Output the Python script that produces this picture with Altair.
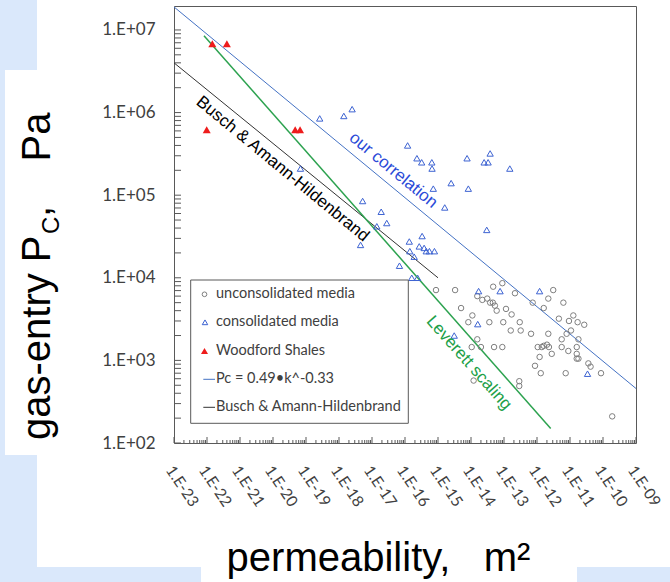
import altair as alt
import pandas as pd

# ---------------- data ----------------
# unconsolidated media: permeability (m^2), gas-entry pressure (Pa)
unc_k = [8.7e-16, 3.3e-15, 1.55e-14, 2.2e-14, 3.1e-14, 3.8e-14, 4.6e-14, 5.3e-14, 6.0e-14, 8.9e-14,
         4.7e-14, 2.15e-13, 5.0e-15, 1.1e-14, 8.3e-15, 3.6e-14, 9.5e-14, 1.15e-13, 1.7e-13, 3.0e-13,
         1.6e-13, 3.2e-13, 6.6e-13, 1.05e-14, 2.0e-14, 5.0e-14, 8.9e-14, 1.55e-14, 1.2e-14, 2.9e-13,
         2.9e-13, 7.4e-13, 1.6e-12, 2.2e-12, 3.1e-12, 6.3e-12, 4.6e-12, 9.3e-12, 1.26e-11, 1.7e-11,
         2.7e-11, 1.07e-11, 7.9e-12, 2.2e-12, 1.05e-12, 1.4e-12, 1.6e-12, 2.0e-12, 2.3e-12, 2.8e-12,
         1.2e-12, 5.6e-12, 5.6e-12, 8.9e-12, 1.6e-11, 1.6e-11, 1.6e-11, 1.8e-11, 1.8e-11, 8.7e-13,
         1.3e-12, 7.4e-12, 3.6e-11, 4.2e-11, 8.7e-11, 1.9e-10]
unc_p = [7.1e3, 7.1e3, 6.0e3, 5.4e3, 5.6e3, 5.0e3, 5.0e3, 4.6e3, 4.0e3, 8.6e3,
         7.8e3, 6.5e3, 4.3e3, 3.5e3, 2.9e3, 2.9e3, 2.9e3, 4.2e3, 3.6e3, 2.9e3,
         2.3e3, 2.3e3, 2.1e3, 1.45e3, 1.45e3, 1.45e3, 1.45e3, 1.8e3, 5.7e2, 5.6e2,
         4.9e2, 5.0e3, 4.3e3, 5.6e3, 7.1e3, 5.0e3, 3.2e3, 3.0e3, 3.5e3, 2.9e3,
         2.7e3, 2.3e3, 2.1e3, 2.1e3, 1.45e3, 1.45e3, 1.5e3, 1.55e3, 1.45e3, 1.2e3,
         1.1e3, 1.8e3, 1.45e3, 1.3e3, 1.45e3, 1.2e3, 1.05e3, 1.05e3, 1.8e3, 8.6e2,
         7.0e2, 7.0e2, 9.2e2, 8.4e2, 7.0e2, 2.1e2]

# consolidated media
con_k = [2.6e-19, 1.4e-18, 2.5e-18, 6.8e-20, 1.2e-16, 2.3e-16, 3.2e-16, 6.5e-16, 6.6e-16, 7.6e-15,
         2.5e-14, 3.3e-14, 3.8e-14, 1.5e-13, 2.5e-15, 7.2e-16, 8.3e-15, 1.6e-15, 3.0e-14, 5.2e-18,
         1.9e-17, 2.8e-17, 1.4e-17, 4.5e-18, 1.35e-16, 3.3e-16, 2.7e-16, 3.8e-16, 4.4e-16, 5.5e-16,
         7.8e-16, 1.4e-16, 1.9e-16, 6.8e-17, 1.6e-16, 2.4e-16, 1.7e-14, 7.6e-14, 1.2e-12, 1.6e-14,
         3.1e-15, 3.4e-11]
con_p = [8.5e5, 9.1e5, 1.1e6, 2.1e5, 4.0e5, 2.8e5, 2.5e5, 2.5e5, 2.1e5, 2.8e5,
         2.5e5, 2.5e5, 3.2e5, 2.1e5, 1.4e5, 1.2e5, 1.2e5, 7.1e4, 3.8e4, 8.5e4,
         6.3e4, 4.6e4, 4.2e4, 2.5e4, 2.75e4, 3.2e4, 2.4e4, 2.3e4, 2.1e4, 2.1e4,
         2.1e4, 2.1e4, 1.8e4, 1.4e4, 1.0e4, 1.0e4, 6.9e3, 6.9e3, 6.9e3, 2.75e3,
         2.0e3, 6.9e2]

# Woodford Shales
wf_k = [1.45e-22, 4.0e-22, 9.8e-23, 4.7e-20, 6.6e-20]
wf_p = [6.8e6, 6.8e6, 6.2e5, 6.2e5, 6.2e5]

# lines (end points)
corr_k = [1e-23, 1e-9]
corr_p = [1.9e7, 4.57e2]
busch_k = [1e-23, 1e-15]
busch_p = [4.0e6, 1.0e4]
lev_k = [8.1e-23, 2.6e-12]
lev_p = [8.5e6, 1.5e2]

series_names = ["unconsolidated media", "consolidated media", "Woodford Shales",
                "Pc = 0.49\u2022k^-0.33", "Busch & Amann-Hildenbrand"]

# tick values
x_major = [10.0 ** e for e in range(-23, -8)]
x_minor = [m * 10.0 ** e for e in range(-23, -9) for m in range(2, 10)]
y_major = [10.0 ** e for e in range(2, 8)]
y_minor = [m * 10.0 ** e for e in range(2, 7) for m in range(2, 10)]

# colours
C_GRAY = "#7f7f7f"
C_TRI = "#3d63d2"
C_RED = "#ee1c1c"
C_LINE = "#4472c4"
C_BLACK = "#333333"
C_GREEN = "#2ca24f"
C_FRAME = "#595959"
BG = "#dae8fb"

FONT_LBL = "Lato"
FONT_BIG = "Liberation Sans"

XD = [1e-23, 1e-9]
YD = [100, 1.95e7]
xs = alt.Scale(type="log", domain=XD)
ys = alt.Scale(type="log", domain=YD)
W, H = 462, 437

main_x_axis = alt.Axis(orient="bottom", values=x_major, title="permeability,\u00a0\u00a0\u00a0m\u00b2",
                       labelExpr="'1.E-' + (round(-log(datum.value)/LN10) < 10 ? '0' : '') + round(-log(datum.value)/LN10)",
                       labelAngle=56, labelAlign="left", labelBaseline="middle", labelPadding=24,
                       labelOffset=-5,
                       labelFont=FONT_LBL, labelFontSize=15.5, labelColor="#404040",
                       labelOverlap=False, labelFlush=False, ticks=False, domain=False, grid=False,
                       titleFont=FONT_BIG, titleFontSize=40, titleFontWeight="normal", titleColor="black",
                       titleX=204, titleY=127, titleAlign="center", titleBaseline="alphabetic", zindex=1)
main_y_axis = alt.Axis(orient="left", values=y_major, title=None,
                       labelExpr="'1.E+0' + round(log(datum.value)/LN10)",
                       labelPadding=19, labelFont=FONT_LBL, labelFontSize=17, labelColor="#404040",
                       labelOverlap=False, labelFlush=False, ticks=False, domain=False, grid=False, zindex=1)

dummy = pd.DataFrame({"a": [0]})

# ---------------- background decoration ----------------
rect_specs = [(-174, -137, -6, 64), (-174, -169, -6, 576), (-174, -137, 449, 576),
              (-174, 27, 561, 576), (403, 496, 561, 576)]
rects = [alt.Chart(dummy).mark_rect(color=BG).encode(
    x=alt.value(a), x2=alt.value(b), y=alt.value(c), y2=alt.value(d)) for a, b, c, d in rect_specs]

# ---------------- inner ticks ----------------
ytick_df = pd.DataFrame({"v": y_major + y_minor})
xmaj_df = pd.DataFrame({"v": x_major})
xmin_df = pd.DataFrame({"v": x_minor})
yticks = alt.Chart(ytick_df).mark_rule(color=C_FRAME, strokeWidth=1).encode(
    y=alt.Y("v:Q", scale=ys, axis=None), x=alt.value(0), x2=alt.value(7))
xmaj = alt.Chart(xmaj_df).mark_rule(color=C_FRAME, strokeWidth=1).encode(
    x=alt.X("v:Q", scale=xs, axis=None), y=alt.value(H - 6), y2=alt.value(H))
xmin = alt.Chart(xmin_df).mark_rule(color=C_FRAME, strokeWidth=1).encode(
    x=alt.X("v:Q", scale=xs, axis=None), y=alt.value(H - 3), y2=alt.value(H))

# ---------------- data layers ----------------
def line_layer(k, p, color, width):
    d = pd.DataFrame({"k": k, "P": p})
    return alt.Chart(d).mark_line(strokeWidth=width, color=color).encode(
        x=alt.X("k:Q", scale=xs, axis=None), y=alt.Y("P:Q", scale=ys, axis=None))

corr = line_layer(corr_k, corr_p, C_LINE, 1)
busch = line_layer(busch_k, busch_p, C_BLACK, 1)
lev = line_layer(lev_k, lev_p, C_GREEN, 1.5)

unc = alt.Chart(pd.DataFrame({"k": unc_k, "P": unc_p})).mark_point(
    shape="circle", filled=False, size=30, strokeWidth=1, opacity=1, color=C_GRAY).encode(
    x=alt.X("k:Q", scale=xs, axis=main_x_axis), y=alt.Y("P:Q", scale=ys, axis=main_y_axis))
con = alt.Chart(pd.DataFrame({"k": con_k, "P": con_p})).mark_point(
    shape="triangle-up", filled=False, size=40, strokeWidth=1, opacity=1, color=C_TRI).encode(
    x=alt.X("k:Q", scale=xs, axis=None), y=alt.Y("P:Q", scale=ys, axis=None))
wf = alt.Chart(pd.DataFrame({"k": wf_k, "P": wf_p})).mark_point(
    shape="triangle-up", filled=True, size=64, opacity=1, color=C_RED).encode(
    x=alt.X("k:Q", scale=xs, axis=None), y=alt.Y("P:Q", scale=ys, axis=None))

# ---------------- annotations ----------------
ann_k = [4.4e-17, 1.95e-20, 8.7e-15]
ann_p = [2.0e5, 2.07e5, 9.3e2]
ann_txt = ["our correlation", "Busch & Amann-Hildenbrand", "Leverett scaling"]
ann_ang = [39.6, 39.5, 48.5]
ann_col = ["#2b4bd8", "#000000", "#21a048"]
anns = []
for i in range(3):
    d = pd.DataFrame({"k": [ann_k[i]], "P": [ann_p[i]], "t": [ann_txt[i]]})
    anns.append(alt.Chart(d).mark_text(font=FONT_BIG, fontSize=17, angle=ann_ang[i], color=ann_col[i],
                                       align="center", baseline="middle").encode(
        x=alt.X("k:Q", scale=xs, axis=None), y=alt.Y("P:Q", scale=ys, axis=None), text="t:N"))

# ---------------- legend (drawn by hand) ----------------
LX0, LX1, LY0, LY1 = 16.7, 234.3, 274, 417.3
rows = [288.3, 316.3, 345, 373.3, 401.3]
leg = [alt.Chart(dummy).mark_rect(fill="white", stroke=C_FRAME, strokeWidth=1).encode(
    x=alt.value(LX0), x2=alt.value(LX1), y=alt.value(LY0), y2=alt.value(LY1))]
leg.append(alt.Chart(dummy).mark_point(shape="circle", filled=False, size=22, strokeWidth=1,
                                       opacity=1, color=C_GRAY).encode(x=alt.value(30.5), y=alt.value(rows[0])))
leg.append(alt.Chart(dummy).mark_point(shape="triangle-up", filled=False, size=30, strokeWidth=1,
                                       opacity=1, color=C_TRI).encode(x=alt.value(31), y=alt.value(rows[1])))
leg.append(alt.Chart(dummy).mark_point(shape="triangle-up", filled=True, size=50,
                                       opacity=1, color=C_RED).encode(x=alt.value(30.5), y=alt.value(rows[2])))
leg.append(alt.Chart(dummy).mark_rule(color=C_LINE, strokeWidth=1).encode(
    x=alt.value(29.3), x2=alt.value(41), y=alt.value(rows[3])))
leg.append(alt.Chart(dummy).mark_rule(color=C_BLACK, strokeWidth=1).encode(
    x=alt.value(29.3), x2=alt.value(41), y=alt.value(rows[4])))
for i, name in enumerate(series_names):
    leg.append(alt.Chart(dummy).mark_text(text=name, font=FONT_LBL, fontSize=14.5, color="#404040",
                                          align="left", baseline="middle").encode(
        x=alt.value(42), y=alt.value(rows[i])))

# ---------------- y-axis title with subscript ----------------
ytitle = [
    alt.Chart(dummy).mark_text(text="gas-entry P", font=FONT_BIG, fontSize=40, angle=270,
                               align="left", baseline="alphabetic", color="black").encode(
        x=alt.value(-124), y=alt.value(434)),
    alt.Chart(dummy).mark_text(text="C", font=FONT_BIG, fontSize=24, angle=270,
                               align="left", baseline="alphabetic", color="black").encode(
        x=alt.value(-115), y=alt.value(228)),
    alt.Chart(dummy).mark_text(text=",\u00a0\u00a0\u00a0\u00a0Pa", font=FONT_BIG, fontSize=40, angle=270,
                               align="left", baseline="alphabetic", color="black").encode(
        x=alt.value(-124), y=alt.value(211)),
]

chart = alt.layer(*rects, yticks, xmaj, xmin, corr, busch, lev, unc, con, wf, *anns, *leg, *ytitle).resolve_axis(
    x="independent", y="independent"
).properties(
    width=W, height=H,
    padding={"left": 174, "top": 6, "right": 34, "bottom": 139},
    autosize=alt.AutoSizeParams(type="none"),
    background="white",
).configure_view(stroke=C_FRAME, strokeWidth=1)

chart.save("out.html", embed_options={"renderer": "svg", "actions": False})
